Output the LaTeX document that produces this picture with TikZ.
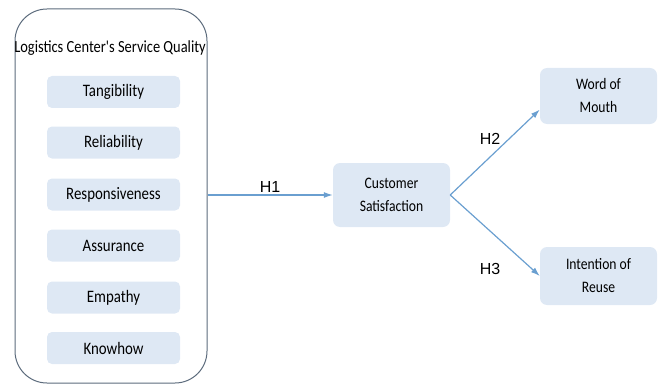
\documentclass[tikz,border=0pt]{standalone}
\usepackage{fontspec}
\setmainfont{Carlito}
\newfontfamily\narrowfont[FakeStretch=0.85]{Carlito}
\newfontfamily\hfont{Liberation Sans}
\usetikzlibrary{arrows.meta}
\definecolor{boxfill}{HTML}{DEE8F4}
\definecolor{arrowc}{HTML}{6A9FD0}
\definecolor{groupc}{HTML}{5C6B7C}
\begin{document}
\begin{tikzpicture}[x=1pt,y=-1pt,
  dimbox/.style={fill=boxfill, rounded corners=5pt, minimum width=133pt, minimum height=32pt, inner sep=0pt, font=\narrowfont\fontsize{17.5}{19}\selectfont},
  outbox/.style={fill=boxfill, rounded corners=7pt, minimum width=117pt, minimum height=58pt, inner sep=0pt, align=center, font=\narrowfont\fontsize{16}{23}\selectfont},
  arr/.style={draw=arrowc, line width=1.2pt, -{Latex[length=9pt,width=6pt]}},
  hlab/.style={font=\hfont\fontsize{16}{18}\selectfont, inner sep=1pt}]
\useasboundingbox (0,0) rectangle (663,385);
\node[draw=groupc, line width=1pt, rounded corners=32pt, minimum width=192pt, minimum height=374pt, inner sep=0pt] (group) at (111,196) {};
\node[font=\narrowfont\fontsize{17}{19}\selectfont, inner sep=0pt] (title) at (110,48) {Logistics Center's Service Quality};
\node[dimbox] (tan) at (113.5,92) {Tangibility};
\node[dimbox] (rel) at (113.5,142.5) {Reliability};
\node[dimbox] (res) at (113.5,194.5) {Responsiveness};
\node[dimbox] (ass) at (113.5,245.5) {Assurance};
\node[dimbox] (emp) at (113.5,297.5) {Empathy};
\node[dimbox] (kno) at (113.5,348) {Knowhow};
\node[outbox, minimum height=64pt] (cs) at (391.5,195) {Customer\\Satisfaction};
\node[outbox, minimum height=56pt] (wom) at (598.5,96) {Word of\\Mouth};
\node[outbox] (iou) at (598.5,276) {Intention of\\Reuse};
\draw[arr] (cs.west -| group.east) -- node[hlab, above, yshift=1pt] {H1} (cs.west);
\draw[arr] (cs.east) -- (wom.193);
\draw[arr] (cs.east) -- (iou.west);
\node[hlab] (h2) at (490,139) {H2};
\node[hlab] (h3) at (490,269) {H3};
\end{tikzpicture}
\end{document}
